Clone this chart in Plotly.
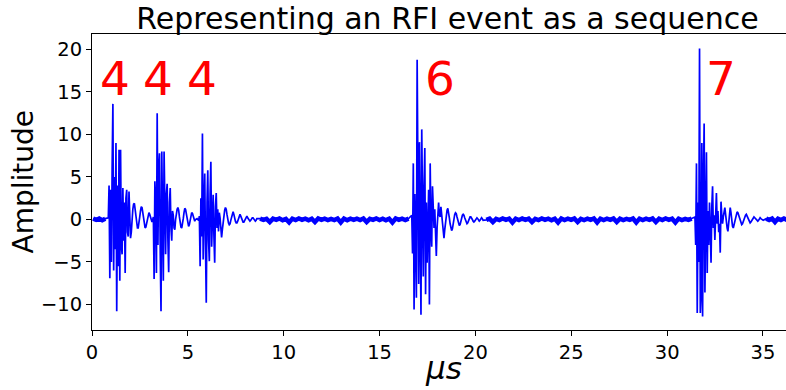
import plotly.graph_objects as go

# ---------------- data ----------------
sample_step_us = 0.04          # spacing of the samples inside each burst (µs)
x_max_us = 36.2                # visible end of the time axis

burst_start_us = [0.85, 3.20, 5.60, 16.68, 31.45]

burst1_amp = [0.2, 4.0, -6.9, 3.5, -5.0, 6.0, 13.6, -6.0, 5.0, -3.5, 9.0, -10.8, 4.0, -5.5,
              8.2, -7.2, 8.2, -3.0, -4.1, 3.7, -2.5, 2.0, -6.3, 2.5, 3.5, -1.5, -2.0, 3.3,
              -1.0, -2.2,
              -1.5, 0.5, 1.2, 1.8, 1.9, 1.2, 0.2, -0.6, -1.0, -1.0, -0.5, 0.3, 1.0, 1.5, 1.4,
              0.8, 0.0, -0.6, -1.0, -0.9, -0.4, 0.2, 0.6, 0.8, 0.6, 0.2, -0.2, -0.3, 0.0]

burst2_amp = [0.3, -7.0, 4.5, 2.0, -6.3, 12.5, -3.0, 6.0, 7.8, -4.0, -10.8, 8.0, -5.0, -7.2,
              8.0, -2.0, -4.1, 3.0, 4.2, -2.5, -6.2, 2.0, 3.7, -1.0, -2.5, 1.0, 0.5, -1.0, -1.2,
              0.0, 0.7, 1.2, 1.4, 1.1, 0.3, -0.5, -0.9, -1.0, -0.6, 0.1, 0.8, 1.3, 1.2, 0.6,
              -0.1, -0.6, -0.8, -0.6, -0.1, 0.4, 0.8, 0.7, 0.3, -0.1, -0.2, 0.0, 0.1, 0.1, 0.0,
              -0.1]

burst3_amp = [0.4, -5.5, 2.5, -2.0, 10.1, -4.7, 1.5, 5.4, -3.0, -9.8, 2.0, 5.8, -2.5, -4.9,
              3.0, 6.8, -3.2, 1.0, 2.9, -2.0, -5.1, 1.5, 3.1, -1.0, 1.2, -1.4, 0.8, 0.2, -1.0,
              -2.1, -1.2,
              -0.2, 0.5, 1.1, 1.4, 1.2, 0.6, 0.0, -0.4, -0.6, -0.5, -0.1, 0.4, 0.8, 0.9, 0.6,
              0.1, -0.2, -0.4, -0.4, -0.2, 0.2, 0.5, 0.6, 0.4, 0.1, -0.2, -0.3, -0.3, -0.1, 0.2,
              0.3, 0.4, 0.2, 0.0, -0.2, -0.2, -0.1, 0.1, 0.2, 0.2, 0.0, -0.1, -0.2, -0.1, 0.1]

burst4_amp = [0.5, -4.0, 6.6, -10.6, 3.0, -2.0, -9.2, 18.8, -3.0, -7.6, 9.1, -2.5, -11.2, 10.6,
              -1.5, -6.7, 4.0, 8.4, -8.8, 2.0, -5.1, 1.0, 3.5, -10.0, 6.6, -1.0, -3.2, 3.9, 0.5,
              -1.0, 1.2, -2.0, -4.3,
              -1.0, 0.8, 2.0, 0.5, 0.3, 1.5, 0.4, -0.8, -1.8, -2.2, -1.2, -0.2, 0.6, 1.1, 1.3,
              0.9, 0.2, -0.5, -1.0, -1.3, -1.1, -0.5, 0.2, 0.6, 0.8, 0.7, 0.3, -0.2, -0.5, -0.7,
              -0.6, -0.2, 0.2, 0.5, 0.6, 0.5, 0.2, -0.1, -0.4, -0.5, -0.4, -0.1, 0.1, 0.3, 0.3,
              0.2, 0.0, -0.2, -0.3, -0.2, 0.0, 0.2, 0.2, 0.1, -0.1, -0.2, -0.1, 0.1, 0.2, 0.1,
              -0.1]

burst5_amp = [0.3, -3.0, 6.6, -11.0, 2.0, -5.0, 20.1, -11.0, -8.9, 9.0, -11.4, 4.0, 11.3, -8.6,
              2.0, 7.9, -6.3, 1.0, -3.0, 2.0, -1.0, -5.1, 1.5, 3.9, -1.0, 0.5, -2.4, 1.0, 3.1,
              -0.5, 1.0, -1.5, -0.5, -3.9, 2.1,
              0.5, -0.5, 0.3, 1.0, 1.4, 0.6, -0.4, -1.0, -1.4, -0.3, 0.8, 1.4, 0.8, -0.2, -0.8,
              -1.0, -0.6, 0.0, 0.4, 0.7, 0.9, 0.8, 0.5, 0.0, -0.3, -0.5, -0.6, -0.5, -0.2, 0.1,
              0.4, 0.5, 0.6, 0.4, 0.1, -0.2, -0.3, -0.4, -0.3, -0.1, 0.1, 0.2, 0.3, 0.2, 0.1,
              -0.1, -0.2, -0.2, -0.1, 0.1, 0.2, 0.1, 0.0, -0.1, -0.1]

# quiet background between bursts (small noise around zero)
noise_before_1 = [0.10, -0.05, 0.12, -0.08, 0.10]
noise_between_3_4 = [0.10, -0.05, 0.08, -0.30, 0.10, -0.05, 0.12, -0.08, 0.06, -0.35,
                     0.10, -0.06, 0.12, -0.05, 0.09, -0.08, 0.10, -0.30, 0.12, -0.05,
                     0.10, -0.07, 0.08, -0.06, 0.12, -0.35, 0.10, -0.08, 0.09, -0.05,
                     0.10, -0.06, 0.11, -0.30, 0.08, -0.05, 0.12, -0.06, 0.10, -0.08,
                     0.09, -0.35, 0.12, -0.05, 0.10, -0.06, 0.10]
noise_between_4_5 = [-0.05, 0.10, -0.30, 0.08, -0.06, 0.12, -0.05, 0.10, -0.35, 0.09,
                     -0.06, 0.11, -0.05, 0.10, -0.30, 0.08, -0.06, 0.12, -0.05, 0.10,
                     -0.08, 0.09, -0.35, 0.12, -0.06, 0.10, -0.05, 0.11, -0.30, 0.08,
                     -0.06, 0.10, -0.05, 0.12, -0.35, 0.10, -0.06, 0.09, -0.05, 0.11,
                     -0.30, 0.10, -0.06, 0.08, -0.05, 0.12, -0.35, 0.10, -0.06, 0.09,
                     -0.05, 0.11, -0.30, 0.10, -0.06, 0.12, -0.05, 0.09, -0.35, 0.10,
                     -0.06, 0.08, -0.05, 0.10]
noise_after_5 = [0.10, -0.05, 0.12, -0.30, 0.10, -0.06, 0.11, -0.05]

label_text = ["4", "4", "4", "6", "7"]
label_time_us = [1.22, 3.46, 5.72, 18.15, 32.8]
label_amp = [16.6, 16.6, 16.6, 16.6, 16.6]

x_ticks = [0, 5, 10, 15, 20, 25, 30, 35]
y_ticks = [-10, -5, 0, 5, 10, 15, 20]

# ---------------- assemble the sequence ----------------
bursts = [burst1_amp, burst2_amp, burst3_amp, burst4_amp, burst5_amp]
gaps = [noise_before_1, [], [], noise_between_3_4, noise_between_4_5, noise_after_5]

t_all, a_all = [], []          # full sequence (thin line)
t_quiet, a_quiet = [], []      # quiet stretches (drawn as a dense, thick band)


def add_gap(values, t_from, t_to):
    n = len(values)
    for i, v in enumerate(values):
        t = t_from + (i + 1) * (t_to - t_from) / (n + 1)
        t_all.append(t)
        a_all.append(v)
        t_quiet.append(t)
        a_quiet.append(v)
    t_quiet.append(None)
    a_quiet.append(None)


prev_end = -0.1
for k, amps in enumerate(bursts):
    add_gap(gaps[k], prev_end, burst_start_us[k])
    for i, v in enumerate(amps):
        t_all.append(burst_start_us[k] + i * sample_step_us)
        a_all.append(v)
    prev_end = t_all[-1]
add_gap(gaps[-1], prev_end, x_max_us + 0.2)

# ---------------- figure ----------------
FONT = "DejaVu Sans"
fig = go.Figure()
fig.add_trace(go.Scatter(x=t_quiet, y=a_quiet, mode="lines", connectgaps=False,
                         line=dict(color="#0000ff", width=4.5),
                         hoverinfo="skip", showlegend=False))
fig.add_trace(go.Scatter(x=t_all, y=a_all, mode="lines",
                         line=dict(color="#0000ff", width=1.7),
                         hoverinfo="skip", showlegend=False))

for txt, tx, ty in zip(label_text, label_time_us, label_amp):
    fig.add_annotation(x=tx, y=ty, xref="x", yref="y", text=txt, showarrow=False,
                       font=dict(family=FONT, size=47, color="#ff0000"),
                       xanchor="center", yanchor="middle")

fig.add_annotation(x=(22.5 - 92) / 694, y=0.5, xref="paper", yref="paper", text="Amplitude",
                   showarrow=False, textangle=-90, xanchor="center", yanchor="middle",
                   font=dict(family=FONT, size=28, color="black"))
fig.add_annotation(x=(443 - 92) / 694, y=-0.13, xref="paper", yref="paper",
                   text="<i>μs</i>", showarrow=False, xanchor="center", yanchor="middle",
                   font=dict(family=FONT, size=31, color="black"))

axis_common = dict(showgrid=False, zeroline=False, showline=True, linecolor="black",
                   linewidth=1, ticks="outside", ticklen=5, tickcolor="black",
                   tickwidth=1, tickfont=dict(family=FONT, size=19.5, color="black"),
                   automargin=False)

fig.update_xaxes(range=[0, x_max_us], tickvals=x_ticks, mirror=True, **axis_common)
fig.update_yaxes(range=[-13.0, 21.82], tickvals=y_ticks, mirror=False, **axis_common)

fig.update_layout(
    width=786, height=390,
    margin=dict(l=92, r=0, t=34, b=60, autoexpand=False),
    paper_bgcolor="white", plot_bgcolor="white",
    title=dict(text="Representing an RFI event as a sequence",
               font=dict(family=FONT, size=30, color="black"),
               x=447.5 / 786, xref="container", xanchor="center",
               y=1 - 18 / 390, yref="container", yanchor="middle"),
)

fig.write_html("out.html",
               config={"displayModeBar": False, "staticPlot": True},
               post_script="document.body.style.margin='0';"
                           "document.body.style.overflow='hidden';")
